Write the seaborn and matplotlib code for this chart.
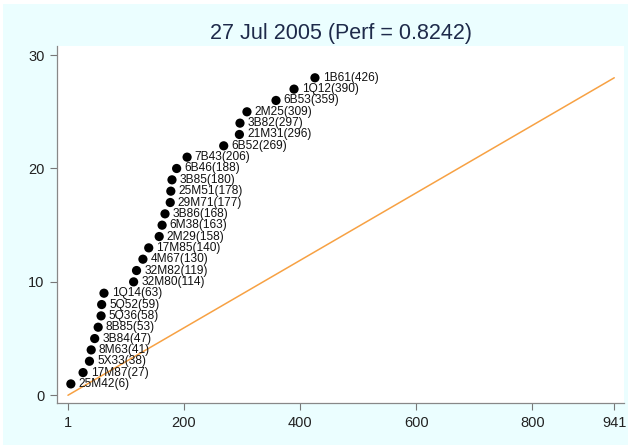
import matplotlib
matplotlib.use("Agg")
import matplotlib.pyplot as plt
from matplotlib.patches import Rectangle
import pandas as pd
import seaborn as sns

# points, bottom to top (rank = y)
codes = ['25M42', '17M87', '5X33', '8M63', '3B84', '8B85', '5Q36', '5Q52', '1Q14',
         '32M80', '32M82', '4M67', '17M85', '2M29', '6M38', '3B86', '29M71', '25M51',
         '3B85', '6B46', '7B43', '6B52', '21M31', '3B82', '2M25', '6B53', '1Q12', '1B61']
positions = [6, 27, 38, 41, 47, 53, 58, 59, 63,
             114, 119, 130, 140, 158, 163, 168, 177, 178,
             180, 188, 206, 269, 296, 297, 309, 359, 390, 426]
ranks = list(range(1, len(codes) + 1))

# diagonal reference line
ref_x = [1, 941]
ref_y = [0, 28]

x_ticks = [1, 200, 400, 600, 800, 941]
y_ticks = [0, 10, 20, 30]

df = pd.DataFrame({'code': codes, 'pos': positions, 'rank': ranks})
ref = pd.DataFrame({'x': ref_x, 'y': ref_y})

sns.set_style("white")
plt.rcParams['font.family'] = ['Liberation Sans', 'DejaVu Sans']

fig = plt.figure(figsize=(6.33, 4.47), dpi=100, facecolor='white')
# light cyan backdrop behind the plot area
fig.patches.append(Rectangle((3 / 633, 2 / 447), 625 / 633, 441 / 447,
                             transform=fig.transFigure, facecolor='#EBFEFF',
                             edgecolor='none', zorder=-10))
ax = fig.add_axes([0.090, 0.098, 0.896, 0.799])
ax.set_facecolor('white')

sns.lineplot(data=ref, x='x', y='y', color='#F7A143', linewidth=1.1, ax=ax, zorder=2)
sns.scatterplot(data=df, x='pos', y='rank', color='black', s=44, edgecolor='none',
                ax=ax, zorder=3)

for _, r in df.iterrows():
    ax.annotate(f"{r['code']}({r['pos']})", (r['pos'], r['rank']),
                xytext=(5.5, 0), textcoords='offset points', va='center', ha='left',
                fontsize=8.6, color='#111111', zorder=4)

ax.set_xlim(-17.9, 958)
ax.set_ylim(-0.7, 30.8)
ax.set_xticks(x_ticks)
ax.set_yticks(y_ticks)
ax.set_xlabel('')
ax.set_ylabel('')
ax.tick_params(axis='both', which='major', direction='out', length=5, width=0.8,
               color='#777777', labelsize=10.5, labelcolor='#222222', pad=4,
               bottom=True, left=True)

for side in ['top', 'right']:
    ax.spines[side].set_visible(False)
for side in ['left', 'bottom']:
    ax.spines[side].set_color('#888888')
    ax.spines[side].set_linewidth(0.9)

ax.set_title('27 Jul 2005 (Perf = 0.8242)', fontsize=15.5, color='#1E2A4A', pad=5)

fig.savefig('out.png', dpi=100, facecolor=fig.get_facecolor())
